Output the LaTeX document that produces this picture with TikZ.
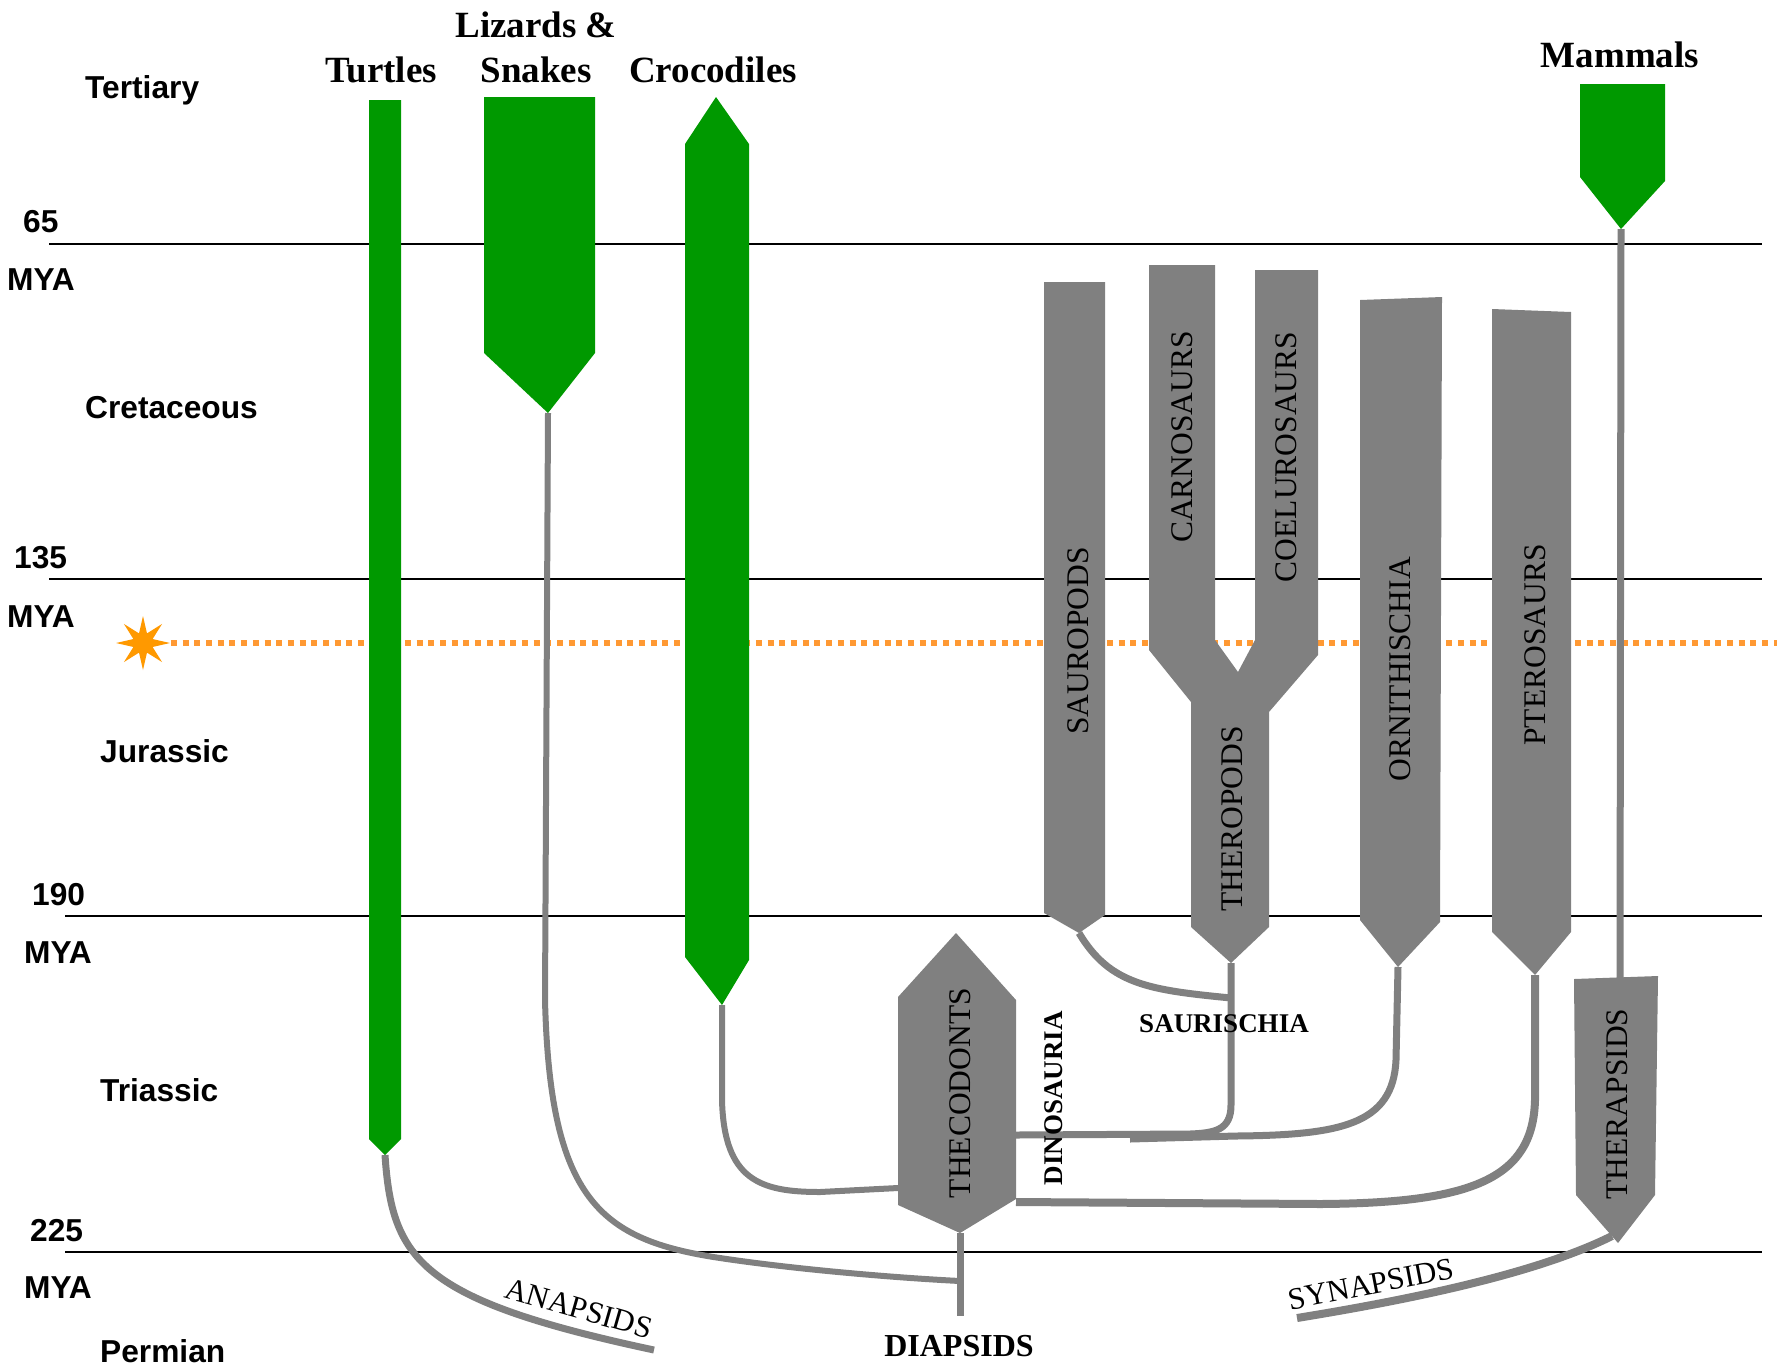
\documentclass[tikz,border=0pt]{standalone}
\usepackage{fontspec}
\setmainfont{Liberation Serif}
\newfontfamily\arialf{Liberation Sans}
\usetikzlibrary{shapes.geometric}
\definecolor{grn}{RGB}{0,153,0}
\definecolor{gry}{RGB}{128,128,128}
\definecolor{dotor}{RGB}{255,153,51}
\definecolor{staror}{RGB}{255,153,0}
\begin{document}
\begin{tikzpicture}[x=1pt,y=-1pt,
 era/.style={font=\arialf\bfseries\fontsize{31.7}{33}\selectfont, anchor=base west, inner sep=0},
 clade/.style={font=\bfseries\fontsize{37}{40}\selectfont, anchor=base, inner sep=0},
 vlab/.style={font=\fontsize{31.5}{33}\selectfont, rotate=90, inner sep=0},
 blab/.style={font=\bfseries\fontsize{27}{29}\selectfont, inner sep=0},
 slab/.style={font=\fontsize{31}{32}\selectfont, anchor=base, inner sep=0},
 gbar/.style={fill=grn},
 gshape/.style={fill=gry},
 conn/.style={draw=gry, line width=7pt},
 timeline/.style={draw=black, line width=2pt},
 dotline/.style={draw=dotor, line width=5.5pt, dash pattern=on 6pt off 5.7pt}]

\fill[white] (0,0) rectangle (1777,1369);
\useasboundingbox (0,0) rectangle (1777,1369);

% time lines
\coordinate (l65a) at (49,244);   \coordinate (l65b) at (1762,244);
\coordinate (l135a) at (49,579);  \coordinate (l135b) at (1762,579);
\coordinate (l190a) at (65,916);  \coordinate (l190b) at (1762,916);
\coordinate (l225a) at (65,1252); \coordinate (l225b) at (1762,1252);
\draw[timeline] (l65a) -- (l65b);
\draw[timeline] (l135a) -- (l135b);
\draw[timeline] (l190a) -- (l190b);
\draw[timeline] (l225a) -- (l225b);

% era labels
\node[era] (tert) at (85,98) {Tertiary};
\node[era] (n65) at (23,232) {65};
\node[era] (mya1) at (7,290) {MYA};
\node[era] (cret) at (85,418) {Cretaceous};
\node[era] (n135) at (14,568) {135};
\node[era] (mya2) at (7,627) {MYA};
\node[era] (jur) at (100,762) {Jurassic};
\node[era] (n190) at (32,905) {190};
\node[era] (mya3) at (24,963) {MYA};
\node[era] (tri) at (100,1101) {Triassic};
\node[era] (n225) at (30,1241) {225};
\node[era] (mya4) at (24,1298) {MYA};
\node[era] (perm) at (100,1362) {Permian};

% extinction line
\node[star, star points=8, star point ratio=2.6, minimum size=54pt, fill=staror, inner sep=0] (boom) at (143,643) {};
\coordinate (dotEnd) at (1777,643);
\draw[dotline] (boom.east) -- (dotEnd);

% anchor coordinates
\coordinate (turtTip) at (385,1155);
\coordinate (anaEnd) at (654,1350);
\coordinate (lizTip) at (548,413);
\coordinate (diapJ) at (960,1281);
\coordinate (theBot) at (960,1233);
\coordinate (diapEnd) at (960,1316);
\coordinate (crocTip) at (722,1005);
\coordinate (theL) at (898,1188);
\coordinate (sauTip) at (1079,933);
\coordinate (therTip) at (1231,963);
\coordinate (sauJ) at (1231,998);
\coordinate (theR1) at (1016,1135);
\coordinate (ornTip) at (1398,967);
\coordinate (ornEnd) at (1130,1139);
\coordinate (ptTip) at (1535,975);
\coordinate (theR2) at (1016,1202);
\coordinate (mamTip) at (1621,229);
\coordinate (thpTop) at (1620,978);
\coordinate (thpTip) at (1612,1236);
\coordinate (synS) at (1297,1318);

% connectors
\draw[conn] (turtTip) .. controls (392,1260) and (420,1300) .. (anaEnd);
\draw[conn, line width=6pt] (lizTip) -- (545,1000) .. controls (550,1200) and (600,1240) .. (720,1258)
   .. controls (800,1270) and (900,1278) .. (diapJ);
\draw[conn] (theBot) -- (diapEnd);
\draw[conn, line width=6pt] (crocTip) -- (722,1100) .. controls (724,1180) and (760,1192) .. (820,1192) -- (theL);
\draw[conn] (sauTip) .. controls (1110,985) and (1150,990) .. (sauJ);
\draw[conn] (therTip) -- (1231,1105) .. controls (1231,1130) and (1215,1133) .. (1190,1134) -- (theR1);
\draw[conn] (ornTip) -- (1396,1060) .. controls (1393,1125) and (1340,1135) .. (1236,1136) -- (ornEnd);
\draw[conn, line width=8pt] (ptTip) -- (1535,1100) .. controls (1533,1180) and (1470,1203) .. (1320,1204) -- (theR2);
\draw[conn] (mamTip) -- (thpTop);
\draw[conn, line width=8pt] (synS) .. controls (1420,1298) and (1540,1272) .. (thpTip);

% green lineages
\fill[gbar] (369,100) -- (401,100) -- (401,1139) -- (turtTip) -- (369,1139) -- cycle;
\fill[gbar] (484,97) -- (595,97) -- (595,353) -- (lizTip) -- (484,353) -- cycle;
\fill[gbar] (716,97) -- (749,144) -- (749,960) -- (crocTip) -- (685,957) -- (685,144) -- cycle;
\fill[gbar] (1580,84) -- (1665,84) -- (1665,181) -- (mamTip) -- (1580,177) -- cycle;

% gray lineages
\fill[gshape] (1044,282) -- (1105,282) -- (1105,915) -- (sauTip) -- (1044,913) -- cycle;
\fill[gshape] (1149,265) -- (1215,265) -- (1215,640) -- (1238,672) -- (1255,640) -- (1255,270)
   -- (1318,270) -- (1318,655) -- (1269,712) -- (1269,927) -- (therTip) -- (1191,927) -- (1191,702)
   -- (1149,650) -- cycle;
\fill[gshape] (1360,300) -- (1442,297) -- (1440,922) -- (ornTip) -- (1360,920) -- cycle;
\fill[gshape] (1492,309) -- (1571,312) -- (1571,932) -- (ptTip) -- (1492,932) -- cycle;
\fill[gshape] (956,933) -- (1016,1000) -- (1016,1199) -- (theBot) -- (898,1205) -- (898,997) -- cycle;
\fill[gshape] (1574,979) -- (1658,976) -- (1655,1195) -- (1618,1243) -- (1576,1195) -- cycle;

% top labels
\node[clade] (turt) at (381,82) {Turtles};
\node[clade] (liz1) at (536,37) {Lizards \&};
\node[clade] (liz2) at (536,82) {Snakes};
\node[clade] (croc) at (713,82) {Crocodiles};
\node[clade] (mam) at (1620,67) {Mammals};

% labels in gray shapes
\node[vlab] (carno) at (1182,437) {CARNOSAURS};
\node[vlab] (coelu) at (1286,457) {COELUROSAURS};
\node[vlab] (sauro) at (1078,641) {SAUROPODS};
\node[vlab] (thero) at (1232,819) {THEROPODS};
\node[vlab] (ornit) at (1400,669) {ORNITHISCHIA};
\node[vlab] (ptero) at (1535,645) {PTEROSAURS};
\node[vlab] (theco) at (960,1093) {THECODONTS};
\node[vlab] (thera) at (1617,1104) {THERAPSIDS};

% other labels
\node[blab, rotate=90] (dino) at (1054,1098) {DINOSAURIA};
\node[blab, anchor=base] (sauri) at (1224,1032) {SAURISCHIA};
\node[font=\bfseries\fontsize{32}{34}\selectfont, anchor=base, inner sep=0] (diap) at (959,1356) {DIAPSIDS};
\node[slab, rotate=-16] (ana) at (576,1318) {ANAPSIDS};
\node[slab, rotate=11] (syn) at (1373,1294) {SYNAPSIDS};
\end{tikzpicture}
\end{document}
